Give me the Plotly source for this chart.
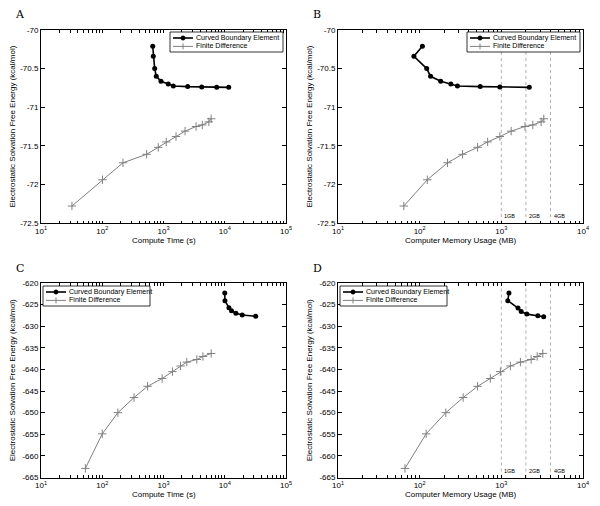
import math
import plotly.graph_objects as go

# Panel A / C: compute time (s); Panel B / D: memory (MB)
A_CBE_X = [667, 681, 718, 762, 910, 1197, 1446, 2483, 4207, 7390, 11610]
A_CBE_Y = [-70.21, -70.34, -70.50, -70.60, -70.665, -70.70, -70.725, -70.733, -70.738, -70.742, -70.743]
A_FD_X = [32, 101, 218, 530, 820, 1110, 1600, 2250, 3400, 4300, 5500, 6000]
A_FD_Y = [-72.28, -71.94, -71.72, -71.61, -71.52, -71.45, -71.38, -71.31, -71.25, -71.23, -71.19, -71.15]

B_CBE_X = [108, 85, 122, 136, 181, 241, 290, 551, 958, 2200]
B_CBE_Y = [-70.21, -70.34, -70.50, -70.60, -70.665, -70.70, -70.725, -70.733, -70.738, -70.743]
B_FD_X = [64, 124, 219, 335, 512, 680, 960, 1320, 1950, 2430, 3070, 3310]
B_FD_Y = [-72.28, -71.94, -71.72, -71.61, -71.52, -71.45, -71.38, -71.31, -71.25, -71.23, -71.19, -71.15]

C_CBE_X = [10000, 10070, 11700, 12900, 15200, 19300, 32000]
C_CBE_Y = [-622.3, -624.1, -625.7, -626.4, -627.0, -627.4, -627.7]
C_FD_X = [53, 100, 180, 330, 550, 950, 1400, 1900, 2400, 3500, 4400, 6000]
C_FD_Y = [-662.9, -654.9, -650.0, -646.5, -643.9, -642.1, -640.5, -639.2, -638.3, -637.7, -637.0, -636.3]

D_CBE_X = [1240, 1200, 1600, 1750, 2050, 2800, 3300]
D_CBE_Y = [-622.3, -624.1, -625.8, -626.6, -627.2, -627.6, -627.8]
D_FD_X = [66, 120, 209, 341, 512, 733, 972, 1290, 1713, 2317, 2747, 3220]
D_FD_Y = [-662.9, -654.9, -650.0, -646.5, -643.9, -642.1, -640.5, -639.2, -638.3, -637.7, -637.0, -636.3]

MEM_LINES = [1000, 2000, 4000]
MEM_LABELS = ["1GB", "2GB", "4GB"]
LEGEND_NAMES = ["Curved Boundary Element", "Finite Difference"]

FONT = "Liberation Sans, Arial, sans-serif"
GREY = "#808080"
DASH_GREY = "#9a9a9a"
YTITLE = "Electrostatic Solvation Free Energy (kcal/mol)"

# the page body has an 8px margin, so the figure is drawn 8px in from the corner
OFF = 8
W, H = 600 - OFF, 506 - OFF


def px(x):
    return (x - OFF) / W


def py(y):
    return 1 - (y - OFF) / H


# plot boxes in page pixels: (left, right, top, bottom)
BOX_A = (41, 286, 30, 223)
BOX_B = (338, 583, 30, 223)
BOX_C = (41, 286, 283, 477.5)
BOX_D = (338, 583, 283, 477.5)

panels = [
    dict(name="A", cbe=(A_CBE_X, A_CBE_Y), fd=(A_FD_X, A_FD_Y), box=BOX_A,
         xr=[1, 5], yr=[-72.5, -70], ystep=0.5, xtitle="Compute Time (s)", mem=False, leg="right"),
    dict(name="B", cbe=(B_CBE_X, B_CBE_Y), fd=(B_FD_X, B_FD_Y), box=BOX_B,
         xr=[1, 4], yr=[-72.5, -70], ystep=0.5, xtitle="Computer Memory Usage (MB)", mem=True, leg="right"),
    dict(name="C", cbe=(C_CBE_X, C_CBE_Y), fd=(C_FD_X, C_FD_Y), box=BOX_C,
         xr=[1, 5], yr=[-665, -620], ystep=5, xtitle="Compute Time (s)", mem=False, leg="left"),
    dict(name="D", cbe=(D_CBE_X, D_CBE_Y), fd=(D_FD_X, D_FD_Y), box=BOX_D,
         xr=[1, 4], yr=[-665, -620], ystep=5, xtitle="Computer Memory Usage (MB)", mem=True, leg="left"),
]

fig = go.Figure()
layout = dict(
    width=W, height=H,
    paper_bgcolor="white", plot_bgcolor="white",
    margin=dict(l=0, r=0, t=0, b=0, autoexpand=False),
    font=dict(family=FONT, size=8, color="black"),
    showlegend=False,
)
annotations = []
shapes = []


def add_legend(x0, y0, w=113, h=20):
    shapes.append(dict(type="rect", xref="paper", yref="paper",
                       x0=px(x0), x1=px(x0 + w), y0=py(y0), y1=py(y0 + h),
                       line=dict(color="black", width=0.8), fillcolor="white", layer="above"))
    rows = [y0 + 6.0, y0 + 14.4]
    # row 1: black line + filled circle
    r = rows[0]
    shapes.append(dict(type="line", xref="paper", yref="paper", x0=px(x0 + 3), x1=px(x0 + 23),
                       y0=py(r), y1=py(r), line=dict(color="black", width=1.6), layer="above"))
    shapes.append(dict(type="circle", xref="paper", yref="paper", x0=px(x0 + 10.8), x1=px(x0 + 15.2),
                       y0=py(r - 2.2), y1=py(r + 2.2), line=dict(color="black", width=0.5),
                       fillcolor="black", layer="above"))
    # row 2: grey line + plus
    r = rows[1]
    shapes.append(dict(type="line", xref="paper", yref="paper", x0=px(x0 + 3), x1=px(x0 + 23),
                       y0=py(r), y1=py(r), line=dict(color=GREY, width=1), layer="above"))
    shapes.append(dict(type="line", xref="paper", yref="paper", x0=px(x0 + 13), x1=px(x0 + 13),
                       y0=py(r - 3), y1=py(r + 3), line=dict(color=GREY, width=1), layer="above"))
    for name, r in zip(LEGEND_NAMES, rows):
        annotations.append(dict(text=name, xref="paper", yref="paper", x=px(x0 + 24), y=py(r),
                                xanchor="left", yanchor="middle", showarrow=False,
                                font=dict(size=7.1, color="black")))


for i, p in enumerate(panels, start=1):
    sfx = "" if i == 1 else str(i)
    xa, ya = "x" + sfx, "y" + sfx
    left, right, top, bottom = p["box"]
    fig.add_trace(go.Scatter(
        x=p["cbe"][0], y=p["cbe"][1], xaxis=xa, yaxis=ya,
        name=LEGEND_NAMES[0], mode="lines+markers",
        line=dict(color="black", width=1.6), marker=dict(symbol="circle", size=5, color="black"),
    ))
    fig.add_trace(go.Scatter(
        x=p["fd"][0], y=p["fd"][1], xaxis=xa, yaxis=ya,
        name=LEGEND_NAMES[1], mode="lines+markers",
        line=dict(color=GREY, width=1), marker=dict(symbol="cross-thin-open", size=6,
                                                   line=dict(color=GREY, width=1), color=GREY),
    ))
    # decade ticks labelled, 2..9 sub-decade ticks unlabelled (MATLAB-style log axis)
    decades = list(range(p["xr"][0], p["xr"][1] + 1))
    tv, tt = [], []
    for d in decades:
        tv.append(10 ** d)
        tt.append("10<sup>%d</sup>" % d)
        if d < decades[-1]:
            for k in range(2, 10):
                tv.append(k * 10 ** d)
                tt.append("")
    n = int(round((p["yr"][1] - p["yr"][0]) / p["ystep"]))
    yv = [p["yr"][0] + k * p["ystep"] for k in range(n + 1)]
    yt = [("%g" % v) for v in yv]
    layout["xaxis" + sfx] = dict(
        type="log", range=p["xr"], domain=[px(left), px(right)], anchor=ya,
        tickmode="array", tickvals=tv, ticktext=tt,
        ticks="inside", ticklen=2.5, tickcolor="black", tickwidth=0.8,
        showline=True, linecolor="black", linewidth=1, mirror="ticks",
        showgrid=False, zeroline=False, tickfont=dict(size=8), automargin=False,
    )
    layout["yaxis" + sfx] = dict(
        range=p["yr"], domain=[py(bottom), py(top)], anchor=xa,
        tickvals=yv, ticktext=yt, ticks="inside", ticklen=4, tickcolor="black", tickwidth=0.8,
        showline=True, linecolor="black", linewidth=1, mirror="ticks",
        showgrid=False, zeroline=False, tickfont=dict(size=8), automargin=False,
    )
    # axis titles
    annotations.append(dict(text=p["xtitle"], xref="paper", yref="paper",
                            x=px((left + right) / 2), y=py(bottom + 17), xanchor="center", yanchor="middle",
                            showarrow=False, font=dict(size=8)))
    annotations.append(dict(text=YTITLE, xref="paper", yref="paper", textangle=-90,
                            x=px(left - 29), y=py((top + bottom) / 2), xanchor="center", yanchor="middle",
                            showarrow=False, font=dict(size=8)))
    # panel letter
    annotations.append(dict(text=p["name"], xref="paper", yref="paper",
                            x=px(left - 21), y=py(top - 15), xanchor="center", yanchor="middle",
                            showarrow=False, font=dict(family="DejaVu Serif, serif", size=11)))
    if p["leg"] == "right":
        add_legend(right - 116, top + 2)
    else:
        add_legend(left + 2, top + 3, w=107)
    if p["mem"]:
        for v, lab in zip(MEM_LINES, MEM_LABELS):
            shapes.append(dict(type="line", xref=xa, yref=ya + " domain", x0=v, x1=v, y0=0, y1=1,
                               line=dict(color=DASH_GREY, width=0.8, dash="3px,3px"), layer="below"))
            annotations.append(dict(text=lab, xref=xa, yref=ya + " domain", x=math.log10(v),
                                    y=0.008, xanchor="left", yanchor="bottom", xshift=1,
                                    showarrow=False, font=dict(size=5.5)))

layout["annotations"] = annotations
layout["shapes"] = shapes
fig.update_layout(**layout)
fig.write_html("out.html")
